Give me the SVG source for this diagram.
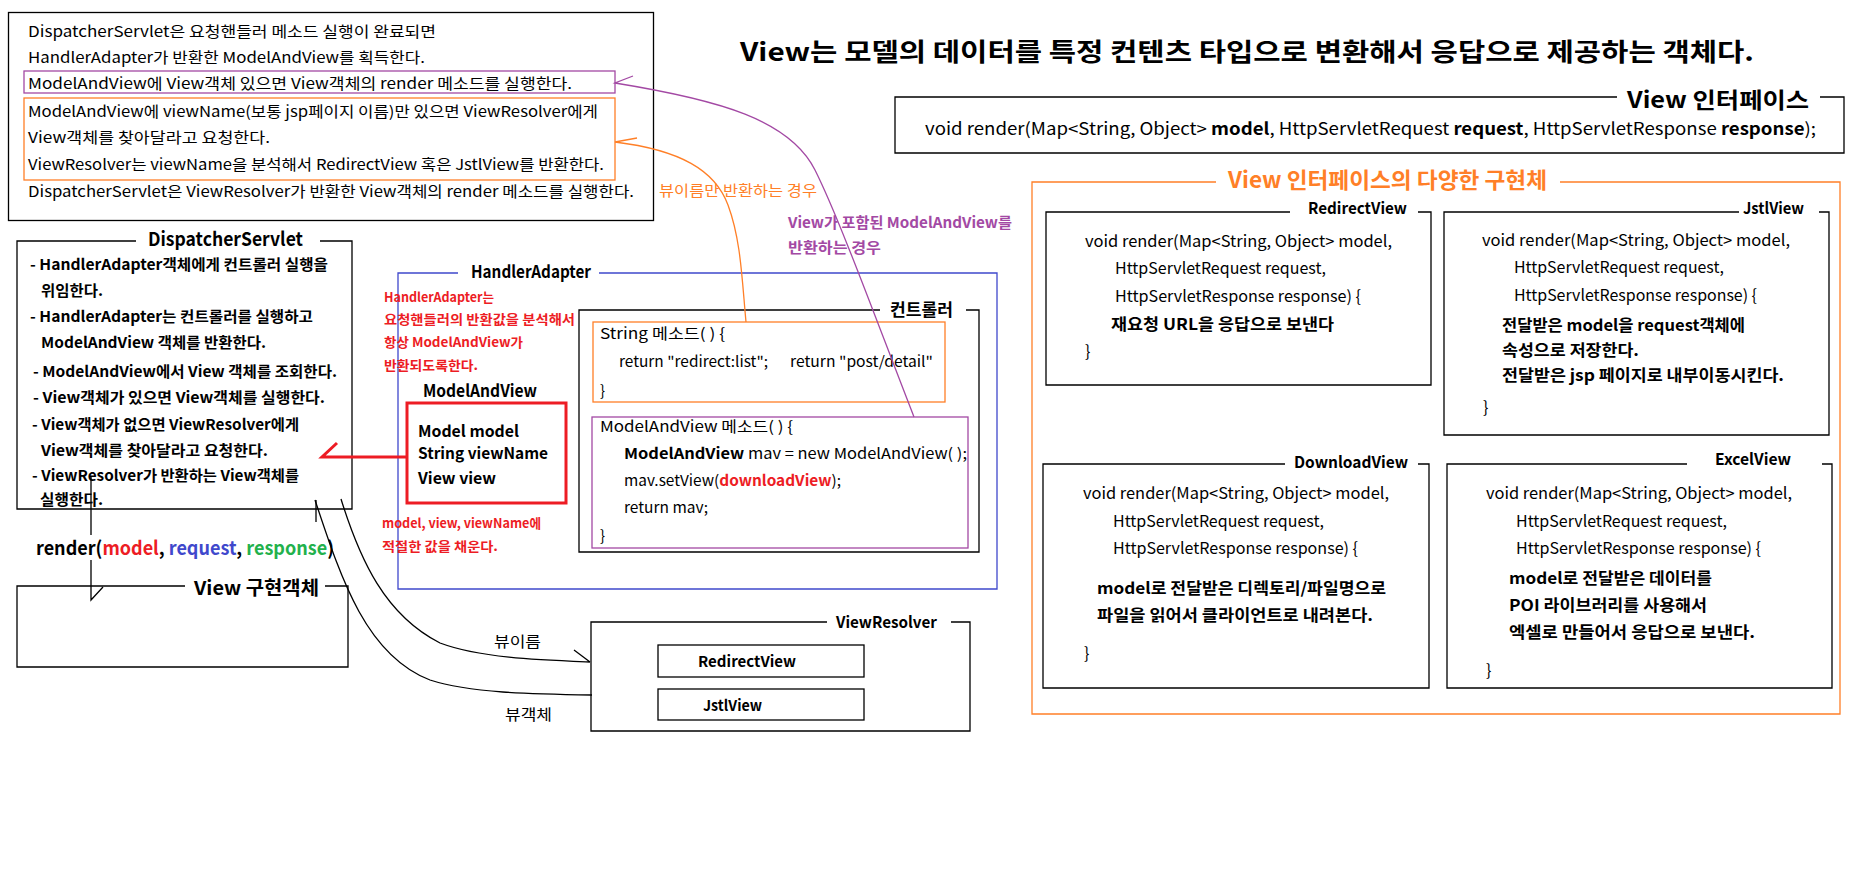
<svg xmlns="http://www.w3.org/2000/svg" width="1855" height="874" viewBox="0 0 1855 874">
<style>
text{font-family:"Noto Sans CJK KR","Noto Sans",sans-serif;font-size:15px;fill:#000}
.b{font-weight:bold}
.s16{font-size:16px}
.s17{font-size:17px}
.s19{font-size:19px}
.s13{font-size:13px}
.red{fill:#ed1c24}
.org{fill:#ff7f27}
.pur{fill:#a349a4}
.blu{fill:#3f48cc}
.grn{fill:#22b14c}
.ln{fill:none;stroke:#000;stroke-width:1.3}
.lo{fill:none;stroke:#ff7f27;stroke-width:1.3}
.lp{fill:none;stroke:#a349a4;stroke-width:1.3}
.lb{fill:none;stroke:#3f48cc;stroke-width:1.3}
.lr{fill:none;stroke:#ed1c24;stroke-width:3}
</style>
<rect width="1855" height="874" fill="#fff"/>

<g id="summary">
<rect class="ln" x="8.5" y="12.5" width="645" height="208"/>
<rect class="lp" x="24" y="71" width="591" height="22"/>
<rect class="lo" x="24" y="98" width="591" height="82"/>
<text x="28" y="37" textLength="408" lengthAdjust="spacingAndGlyphs">DispatcherServlet은 요청핸들러 메소드 실행이 완료되면</text>
<text x="28" y="63" textLength="397" lengthAdjust="spacingAndGlyphs">HandlerAdapter가 반환한 ModelAndView를 획득한다.</text>
<text x="28" y="89" textLength="544" lengthAdjust="spacingAndGlyphs">ModelAndView에 View객체 있으면 View객체의 render 메소드를 실행한다.</text>
<text x="28" y="117" textLength="570" lengthAdjust="spacingAndGlyphs">ModelAndView에 viewName(보통 jsp페이지 이름)만 있으면 ViewResolver에게</text>
<text x="28" y="143" textLength="242" lengthAdjust="spacingAndGlyphs">View객체를 찾아달라고 요청한다.</text>
<text x="28" y="170" textLength="576" lengthAdjust="spacingAndGlyphs">ViewResolver는 viewName을 분석해서 RedirectView 혹은 JstlView를 반환한다.</text>
<text x="28" y="197" textLength="606" lengthAdjust="spacingAndGlyphs">DispatcherServlet은 ViewResolver가 반환한 View객체의 render 메소드를 실행한다.</text>
</g>

<g id="title">
<text x="740" y="61" class="b" style="font-size:25px" textLength="1014" lengthAdjust="spacingAndGlyphs">View는 모델의 데이터를 특정 컨텐츠 타입으로 변환해서 응답으로 제공하는 객체다.</text>
</g>

<g id="view-interface">
<path class="ln" d="M1617,97 H895 V153 H1844 V97 H1820"/>
<text x="1627" y="108" class="b" style="font-size:22px" textLength="182" lengthAdjust="spacingAndGlyphs">View 인터페이스</text>
<text x="925" y="135" class="s17" textLength="891" lengthAdjust="spacingAndGlyphs">void render(Map&lt;String, Object&gt; <tspan class="b">model</tspan>, HttpServletRequest <tspan class="b">request</tspan>, HttpServletResponse <tspan class="b">response</tspan>);</text>
</g>

<g id="implementations">
<path class="lo" d="M1216,182 H1032 V714 H1840 V182 H1560"/>
<text x="1228" y="188" class="b org" style="font-size:22px" textLength="319" lengthAdjust="spacingAndGlyphs">View 인터페이스의 다양한 구현체</text>
</g>

<g id="redirect-view">
<path class="ln" d="M1290,212 H1046 V385 H1431 V212 H1418"/>
<text x="1308" y="214" class="b s16" textLength="99" lengthAdjust="spacingAndGlyphs">RedirectView</text>
<text x="1085" y="247" class="s16" textLength="307" lengthAdjust="spacingAndGlyphs">void render(Map&lt;String, Object&gt; model,</text>
<text x="1115" y="274" class="s16" textLength="211" lengthAdjust="spacingAndGlyphs">HttpServletRequest request,</text>
<text x="1115" y="302" class="s16" textLength="246" lengthAdjust="spacingAndGlyphs">HttpServletResponse response) {</text>
<text x="1111" y="330" class="b s16" textLength="223" lengthAdjust="spacingAndGlyphs">재요청 URL을 응답으로 보낸다</text>
<text x="1085" y="357" class="s16">}</text>
</g>

<g id="jstl-view">
<path class="ln" d="M1739,212 H1444 V435 H1829 V212 H1819"/>
<text x="1743" y="214" class="b s16" textLength="61" lengthAdjust="spacingAndGlyphs">JstlView</text>
<text x="1482" y="246" class="s16" textLength="308" lengthAdjust="spacingAndGlyphs">void render(Map&lt;String, Object&gt; model,</text>
<text x="1514" y="273" class="s16" textLength="210" lengthAdjust="spacingAndGlyphs">HttpServletRequest request,</text>
<text x="1514" y="301" class="s16" textLength="243" lengthAdjust="spacingAndGlyphs">HttpServletResponse response) {</text>
<text x="1502" y="331" class="b s16" textLength="243" lengthAdjust="spacingAndGlyphs">전달받은 model을 request객체에</text>
<text x="1502" y="356" class="b s16" textLength="137" lengthAdjust="spacingAndGlyphs">속성으로 저장한다.</text>
<text x="1502" y="381" class="b s16" textLength="282" lengthAdjust="spacingAndGlyphs">전달받은 jsp 페이지로 내부이동시킨다.</text>
<text x="1483" y="413" class="s16">}</text>
</g>

<g id="download-view">
<path class="ln" d="M1285,464 H1043 V688 H1429 V464 H1418"/>
<text x="1294" y="468" class="b s16" textLength="114" lengthAdjust="spacingAndGlyphs">DownloadView</text>
<text x="1083" y="499" class="s16" textLength="306" lengthAdjust="spacingAndGlyphs">void render(Map&lt;String, Object&gt; model,</text>
<text x="1113" y="527" class="s16" textLength="211" lengthAdjust="spacingAndGlyphs">HttpServletRequest request,</text>
<text x="1113" y="554" class="s16" textLength="245" lengthAdjust="spacingAndGlyphs">HttpServletResponse response) {</text>
<text x="1097" y="594" class="b s16" textLength="289" lengthAdjust="spacingAndGlyphs">model로 전달받은 디렉토리/파일명으로</text>
<text x="1097" y="621" class="b s16" textLength="276" lengthAdjust="spacingAndGlyphs">파일을 읽어서 클라이언트로 내려본다.</text>
<text x="1084" y="659" class="s16">}</text>
</g>

<g id="excel-view">
<path class="ln" d="M1687,464 H1447 V688 H1832 V464 H1822"/>
<text x="1715" y="465" class="b s16" textLength="76" lengthAdjust="spacingAndGlyphs">ExcelView</text>
<text x="1486" y="499" class="s16" textLength="306" lengthAdjust="spacingAndGlyphs">void render(Map&lt;String, Object&gt; model,</text>
<text x="1516" y="527" class="s16" textLength="211" lengthAdjust="spacingAndGlyphs">HttpServletRequest request,</text>
<text x="1516" y="554" class="s16" textLength="245" lengthAdjust="spacingAndGlyphs">HttpServletResponse response) {</text>
<text x="1509" y="584" class="b s16" textLength="203" lengthAdjust="spacingAndGlyphs">model로 전달받은 데이터를</text>
<text x="1509" y="611" class="b s16" textLength="198" lengthAdjust="spacingAndGlyphs">POI 라이브러리를 사용해서</text>
<text x="1509" y="638" class="b s16" textLength="246" lengthAdjust="spacingAndGlyphs">엑셀로 만들어서 응답으로 보낸다.</text>
<text x="1486" y="676" class="s16">}</text>
</g>

<g id="dispatcher-servlet">
<path class="ln" d="M136,241 H17 V509 H352 V241 H320"/>
<text x="148" y="246" class="b s19" textLength="155" lengthAdjust="spacingAndGlyphs">DispatcherServlet</text>
<text x="30" y="270" class="b" textLength="298" lengthAdjust="spacingAndGlyphs">- HandlerAdapter객체에게 컨트롤러 실행을</text>
<text x="41" y="296" class="b" textLength="62" lengthAdjust="spacingAndGlyphs">위임한다.</text>
<text x="30" y="322" class="b" textLength="283" lengthAdjust="spacingAndGlyphs">- HandlerAdapter는 컨트롤러를 실행하고</text>
<text x="41" y="348" class="b" textLength="225" lengthAdjust="spacingAndGlyphs">ModelAndView 객체를 반환한다.</text>
<text x="33" y="377" class="b" textLength="304" lengthAdjust="spacingAndGlyphs">- ModelAndView에서 View 객체를 조회한다.</text>
<text x="33" y="403" class="b" textLength="292" lengthAdjust="spacingAndGlyphs">- View객체가 있으면 View객체를 실행한다.</text>
<text x="32" y="430" class="b" textLength="267" lengthAdjust="spacingAndGlyphs">- View객체가 없으면 ViewResolver에게</text>
<text x="41" y="456" class="b" textLength="227" lengthAdjust="spacingAndGlyphs">View객체를 찾아달라고 요청한다.</text>
<text x="32" y="481" class="b" textLength="267" lengthAdjust="spacingAndGlyphs">- ViewResolver가 반환하는 View객체를</text>
<text x="40" y="505" class="b" textLength="63" lengthAdjust="spacingAndGlyphs">실행한다.</text>
</g>

<g id="render-call">
<text x="36" y="555" class="b s19" textLength="298" lengthAdjust="spacingAndGlyphs">render(<tspan class="red">model</tspan>, <tspan class="blu">request</tspan>, <tspan class="grn">response</tspan>)</text>
</g>

<g id="view-impl">
<path class="ln" d="M185,586 H17 V667 H348 V586 H325"/>
<text x="194" y="595" class="b s19" textLength="125" lengthAdjust="spacingAndGlyphs">View 구현객체</text>
</g>

<g id="handler-adapter">
<path class="lb" d="M458,273 H398 V589 H997 V273 H599"/>
<text x="471" y="278" class="b s17" textLength="120" lengthAdjust="spacingAndGlyphs">HandlerAdapter</text>
<text x="384" y="302" class="b s13 red" textLength="110" lengthAdjust="spacingAndGlyphs">HandlerAdapter는</text>
<text x="384" y="324" class="b s13 red" textLength="191" lengthAdjust="spacingAndGlyphs">요청핸들러의 반환값을 분석해서</text>
<text x="384" y="347" class="b s13 red" textLength="139" lengthAdjust="spacingAndGlyphs">항상 ModelAndView가</text>
<text x="384" y="370" class="b s13 red" textLength="94" lengthAdjust="spacingAndGlyphs">반환되도록한다.</text>
<text x="382" y="528" class="b s13 red" textLength="159" lengthAdjust="spacingAndGlyphs">model, view, viewName에</text>
<text x="382" y="551" class="b s13 red" textLength="116" lengthAdjust="spacingAndGlyphs">적절한 값을 채운다.</text>
</g>

<g id="model-and-view">
<text x="423" y="397" class="b s17" textLength="114" lengthAdjust="spacingAndGlyphs">ModelAndView</text>
<rect class="lr" x="407" y="403" width="159" height="100"/>
<text x="418" y="437" class="b s16" textLength="101" lengthAdjust="spacingAndGlyphs">Model model</text>
<text x="418" y="459" class="b s16" textLength="130" lengthAdjust="spacingAndGlyphs">String viewName</text>
<text x="418" y="484" class="b s16" textLength="78" lengthAdjust="spacingAndGlyphs">View view</text>
</g>

<g id="controller">
<path class="ln" d="M880,310 H579 V552 H979 V310 H966"/>
<text x="890" y="316" class="b s17" textLength="63" lengthAdjust="spacingAndGlyphs">컨트롤러</text>
</g>

<g id="string-method">
<rect class="lo" x="593" y="322" width="352" height="80"/>
<text x="600" y="339" textLength="125" lengthAdjust="spacingAndGlyphs">String 메소드( ) {</text>
<text x="619" y="367" textLength="149" lengthAdjust="spacingAndGlyphs">return "redirect:list";</text>
<text x="790" y="367" textLength="143" lengthAdjust="spacingAndGlyphs">return "post/detail"</text>
<text x="600" y="396">}</text>
</g>

<g id="mav-method">
<rect class="lp" x="592" y="417" width="376" height="131"/>
<text x="600" y="432" textLength="193" lengthAdjust="spacingAndGlyphs">ModelAndView 메소드( ) {</text>
<text x="624" y="459" textLength="343" lengthAdjust="spacingAndGlyphs"><tspan class="b">ModelAndView</tspan> mav = new ModelAndView( );</text>
<text x="624" y="486" textLength="217" lengthAdjust="spacingAndGlyphs">mav.setView(<tspan class="b red">downloadView</tspan>);</text>
<text x="624" y="513" textLength="84" lengthAdjust="spacingAndGlyphs">return mav;</text>
<text x="600" y="541">}</text>
</g>

<g id="view-resolver">
<path class="ln" d="M827,622 H591 V731 H970 V622 H951"/>
<text x="836" y="628" class="b s16" textLength="101" lengthAdjust="spacingAndGlyphs">ViewResolver</text>
<rect class="ln" x="658" y="645" width="206" height="32"/>
<text x="698" y="667" class="b" textLength="98" lengthAdjust="spacingAndGlyphs">RedirectView</text>
<rect class="ln" x="658" y="689" width="206" height="31"/>
<text x="703" y="711" class="b" textLength="59" lengthAdjust="spacingAndGlyphs">JstlView</text>
</g>

<g id="connectors">
<path class="lr" d="M407,457 H322 L337,443"/>
<path class="ln" d="M91,477 V535 M91,560 V600 L103,587"/>
<path class="ln" d="M316,500 V522"/>
<path class="ln" d="M315,500 C340,575 365,655 430,680 C470,693 530,694 592,695"/>
<path class="ln" d="M341,499 C360,560 385,615 440,643 C480,658 540,660 590,662 M574,650 L590,662"/>
<text x="494" y="647" textLength="47" lengthAdjust="spacingAndGlyphs">뷰이름</text>
<text x="505" y="720" textLength="47" lengthAdjust="spacingAndGlyphs">뷰객체</text>
<path class="lp" d="M633,76 L615,83 C720,100 790,120 815,170 S 880,330 914,417"/>
<path class="lo" d="M637,138 L615,142 C680,150 715,170 728,205 S 742,280 746,322"/>
<text x="659" y="196" class="org" textLength="158" lengthAdjust="spacingAndGlyphs">뷰이름만 반환하는 경우</text>
<text x="788" y="228" class="b pur" textLength="224" lengthAdjust="spacingAndGlyphs">View가 포함된 ModelAndView를</text>
<text x="788" y="253" class="b pur" textLength="93" lengthAdjust="spacingAndGlyphs">반환하는 경우</text>
</g>
</svg>
